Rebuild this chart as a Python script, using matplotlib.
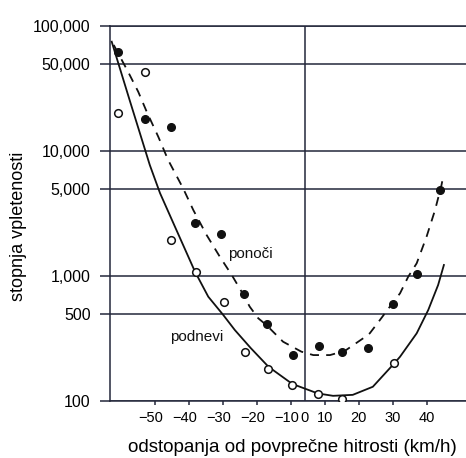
import matplotlib
matplotlib.use("Agg")
import matplotlib.pyplot as plt
import matplotlib.transforms as mtransforms
from matplotlib.ticker import NullLocator

plt.rcParams['font.family'] = ['Liberation Sans', 'DejaVu Sans']

# x positions are in axis units: ticks every 10, the printed labels skip 0
# (the "0" sits on the vertical line, between the -10 and 10 ticks)
tick_pos = [-50, -40, -30, -20, -10, 0, 10, 20, 30]
tick_labels = ['\u221250', '\u221240', '\u221230', '\u221220', '\u221210', '10', '20', '30', '40']
zero_pos = -5.9

# ponoči (night) - filled circles
night_x = [-60.8, -52.9, -45.4, -38.2, -30.7, -23.7, -17.0, -9.4, -1.8, 5.0, 12.7, 19.9, 27.0, 34.0]
night_y = [62300, 17900, 15500, 2640, 2170, 718, 411, 235, 274, 247, 267, 597, 1037, 4877]

# podnevi (day) - open circles
day_x = [-60.8, -52.9, -45.4, -38.0, -29.7, -23.5, -16.6, -9.6, -2.1, 5.0, 20.4]
day_y = [20000, 43100, 1940, 1083, 622, 248, 180, 134, 114, 104, 200]

# dashed curve (ponoči)
night_curve_x = [-62.1, -57.9, -54.9, -52.4, -49.0, -46.1, -41.7, -38.7, -34.8, -30.9,
                 -27.4, -24.5, -22.1, -19.6, -17.2, -12.3, -6.9, -3.4, 1.5, 5.9,
                 11.3, 13.2, 16.2, 19.1, 22.1, 24.5, 27.0, 29.9, 32.4, 34.3, 34.7]
night_curve_y = [70500, 43100, 29800, 20600, 13000, 8470, 5030, 3370, 2130, 1426,
                 1019, 749, 568, 459, 405, 298, 248, 233, 233, 252,
                 318, 348, 445, 568, 727, 986, 1264, 2062, 3373, 5346, 6080]

# solid curve (podnevi)
day_curve_x = [-62.7, -57.4, -51.5, -48.5, -44.1, -38.2, -34.3, -29.9, -26.5, -21.8,
               -16.6, -9.6, -2.1, 2.4, 8.2, 14.1, 20.4, 22.1, 27.0, 30.4, 33.3, 35.0]
day_curve_y = [74900, 25400, 7730, 4610, 2480, 1083, 683, 488, 370, 265,
               188, 137, 115, 110, 112, 130, 200, 226, 348, 535, 847, 1225]

ytick_vals = [100, 500, 1000, 5000, 10000, 50000, 100000]
ytick_labels = ['100', '500', '1,000', '5,000', '10,000', '50,000', '100,000']

ink = '#23273a'

fig = plt.figure(figsize=(4.66, 4.58), dpi=100)
ax = fig.add_axes([110 / 466, 1 - 401 / 458, 1 - 110 / 466, (401 - 26) / 458])

ax.set_yscale('log')
ax.set_ylim(100, 100000)
ax.set_xlim(-63.2, 41.5)

for v in ytick_vals:
    ax.axhline(v, color=ink, lw=1.1, zorder=1)
ax.axvline(zero_pos, color=ink, lw=1.1, zorder=1)

ax.plot(night_curve_x, night_curve_y, color='#111', lw=1.3, ls=(0, (5, 4)), zorder=2)
ax.plot(day_curve_x, day_curve_y, color='#111', lw=1.3, zorder=2)
ax.plot(night_x, night_y, 'o', color='#111', ms=5.5, zorder=3)
ax.plot(day_x, day_y, 'o', mfc='white', mec='#111', mew=1.1, ms=5.5, zorder=3)

ax.text(-28.5, 1500, 'ponoči', fontsize=11, ha='left', va='center', color='#111')
ax.text(-45.6, 325, 'podnevi', fontsize=11, ha='left', va='center', color='#111')

ax.set_yticks(ytick_vals)
ax.set_yticklabels(ytick_labels)
ax.yaxis.set_minor_locator(NullLocator())
ax.set_xticks(tick_pos)
ax.set_xticklabels(tick_labels)
ax.set_xticks([zero_pos], minor=True)
ax.set_xticklabels(['0'], minor=True)

ax.tick_params(axis='y', which='major', length=7, width=1.1, pad=7, labelsize=11.5, color=ink)
ax.tick_params(axis='x', which='major', length=3, width=1.1, pad=4, labelsize=10.5, color=ink)
ax.tick_params(axis='x', which='minor', length=0, pad=7, labelsize=10.5)

# negative labels sit a little left of their ticks in the original
shift = mtransforms.ScaledTranslation(-4 / 100, 0, fig.dpi_scale_trans)
for t in ax.xaxis.get_major_ticks()[:5]:
    t.label1.set_transform(t.label1.get_transform() + shift)

for s in ['top', 'left', 'bottom']:
    ax.spines[s].set_color(ink)
    ax.spines[s].set_linewidth(1.1)
ax.spines['right'].set_visible(False)

fig.text(19 / 466, 1 - 226 / 458, 'stopnja vpletenosti', rotation=90, fontsize=13,
         ha='center', va='center')
fig.text(292 / 466, 1 - 447 / 458, 'odstopanja od povprečne hitrosti (km/h)', fontsize=13.5,
         ha='center', va='center')

fig.savefig('out.png', dpi=100)
